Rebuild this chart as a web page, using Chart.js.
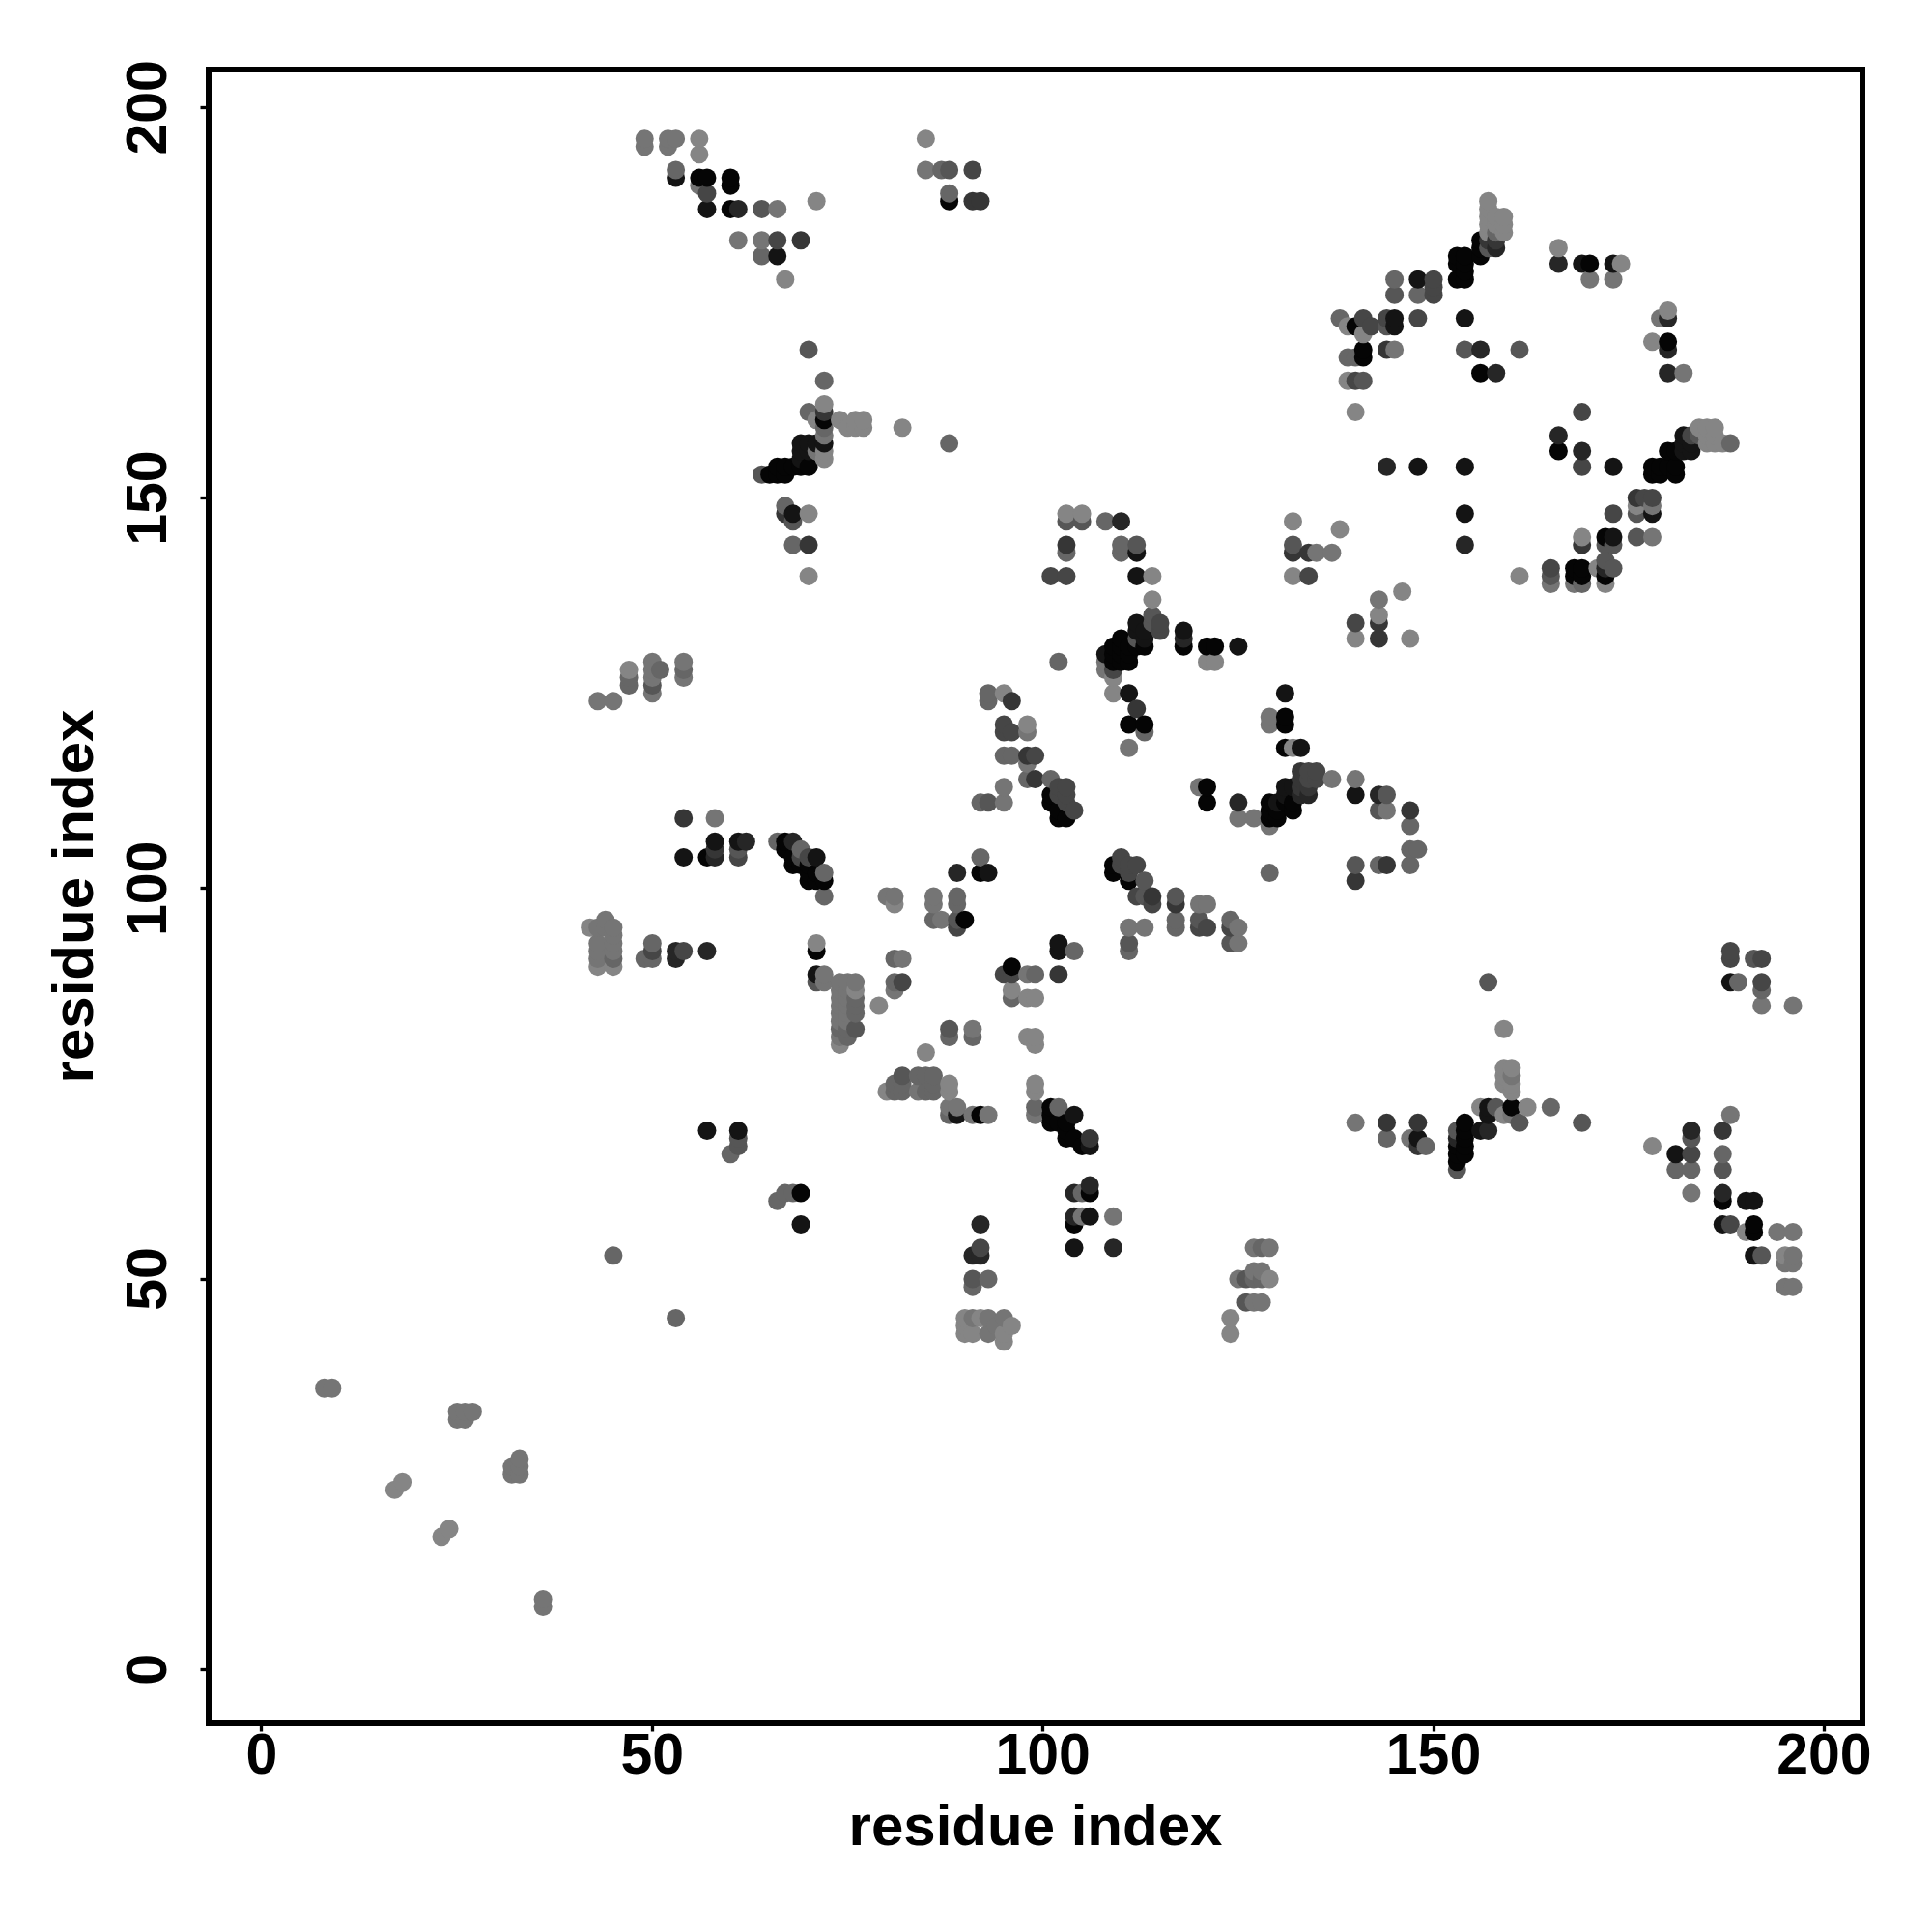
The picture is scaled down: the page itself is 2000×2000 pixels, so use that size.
<!DOCTYPE html>
<html><head><meta charset="utf-8">
<style>html,body{margin:0;padding:0;background:#fff}canvas{display:block}</style>
<script src="https://cdn.jsdelivr.net/npm/chart.js@4"></script>
</head><body><canvas id="c" width="2000" height="2000"></canvas>
<script>
const xTicks=[0,50,100,150,200];
const yTicks=[0,50,100,150,200];
const axisLabel="residue index";
// contact pairs [x,y,x,y,...], grouped by gray level
const shade05=[56,191,57,191,60,191,60,190,60,187,88,188,72,160,66,154,67,154,68,154,69,154,70,154,65,153,66,153,67,153,
153,181,154,181,153,180,154,180,154,179,153,178,154,178,156,183,156,182,156,181,170,180,140,172,141,169,141,168,156,166,180,170,
178,153,179,153,181,153,178,154,179,154,180,154,181,154,180,156,181,156,166,156,172,145,172,140,168,141,169,141,169,140,168,140,
110,132,109,131,110,131,111,131,112,131,113,131,109,130,110,130,111,130,109,129,110,129,111,129,118,131,121,131,122,131,111,121,113,121,131,122,131,121,131,118,
121,113,121,111,129,111,131,111,132,111,132,110,129,110,130,110,129,109,130,109,101,112,101,111,102,110,102,109,103,109,109,103,109,102,111,101,92,102,90,96,96,90,
67,106,67,105,68,104,68,103,69,103,70,103,70,102,71,102,70,101,71,101,72,101,57,104,71,92,
101,72,101,71,101,70,102,70,103,70,103,69,103,68,104,68,105,67,92,71,69,61,106,61,104,57,154,70,154,69,154,68,154,67,153,67,153,66,154,66,153,65,160,72,191,57,191,56,187,60];
const shade15=[53,191,57,187,66,181,68,148,69,157,70,157,69,156,70,156,69,155,71,157,72,157,154,173,173,180,169,180,148,178,145,173,145,172,154,154,148,154,173,154,182,158,182,157,183,157,183,156,182,156,154,148,178,148,173,145,
112,143,112,140,118,133,125,131,112,134,108,130,113,132,112,133,113,133,131,125,133,118,140,112,102,93,102,92,93,102,58,106,61,106,54,104,71,89,89,71,104,54,69,57,61,69,57,69,106,58,148,68,157,72,157,71,156,69,181,66,190,60,191,60,187,57,191,53,188,88,106,67,131,113,130,111,131,112,132,113,111,125,71,104,104,71];
const shade25=[61,187,166,180,169,156,166,158,156,169,180,173,180,169,180,166,158,166,144,154,154,144,172,141,110,147,106,62,104,61,104,58,92,57,91,53,92,53,109,54,125,111,133,112,134,112,143,112,118,132,68,106,58,104,53,91,53,92,57,92,62,106,157,69,153,68,187,61,89,102,183,69,158,182];
const shade35=[91,188,92,188,69,183,67,148,70,144,103,144,133,115,133,113,134,113,133,114,144,103,99,114,98,117,102,89,147,110,148,67,106,68,187,69,148,70,144,70,176,150,143,132,143,134,113,133,117,98,114,99,54,109,112,123,140,101,132,143,134,143,58,105,96,124,72,161,157,183,158,183,144,169,169,144];
const shade45=[57,189,66,183,91,192,141,173,148,173,144,173,142,172,165,141,140,134,140,165,169,154,169,161,173,148,150,176,150,177,150,178,103,140,101,140,95,120,96,120,95,121,99,117,102,113,103,113,102,112,103,112,103,111,104,110,110,104,110,103,111,103,112,103,111,102,70,104,69,104,134,114,135,114,135,115,134,115,115,134,115,133,112,99,114,98,120,95,121,95,124,95,188,92,188,91,192,91,188,57,192,88,183,66,54,92,50,92,61,104,89,95,82,88,96,89,95,89,92,54,177,150,178,150,109,128,183,158,134,140];
const shade55=[88,192,64,187,70,169,68,147,165,140,144,172,150,177,161,169,154,169,141,165,176,145,172,144,173,141,172,142,184,158,173,144,114,134,112,144,103,147,105,147,132,144,113,101,113,99,117,99,93,111,120,96,124,93,140,103,144,103,50,126,82,76,76,82,61,105,61,68,61,67,88,82,126,50,91,50,126,47,153,64,187,64,161,70,169,70,157,88,192,88,191,91,158,72,192,53,183,68,153,69,176,148,114,135,145,176,157,182,112,132,144,112,143,110,71,88,64,153,89,96,111,93];
const shade65=[53,192,87,192,88,189,64,181,70,161,88,157,67,149,68,144,72,165,45,53,53,45,108,147,110,144,103,143,110,143,102,129,93,125,93,124,96,124,95,117,96,117,98,114,101,114,92,104,92,111,111,92,89,99,89,98,86,96,117,96,117,95,124,96,72,99,72,102,69,105,66,106,58,105,50,93,45,91,49,91,50,91,51,128,54,128,47,127,47,126,76,85,76,86,76,84,74,82,75,82,75,81,88,81,91,81,96,86,81,91,81,88,84,76,85,76,86,76,81,75,82,75,86,75,81,74,82,74,85,74,86,74,99,72,102,72,88,71,60,66,66,60,68,61,67,61,91,49,93,50,143,103,144,68,147,103,147,105,147,108,148,105,149,67,165,72,181,64,183,64,187,66,189,88,192,87,145,178,148,176,138,173,144,172,188,157,140,168,139,168,127,50,128,54,128,50,113,120,99,89,104,92,105,61,72,159,158,184,169,139,129,102];
const shade75=[53,196,61,183,64,183,66,187,72,158,71,156,85,192,49,196,49,195,52,196,52,195,50,129,54,129,50,127,54,127,50,125,45,124,43,124,45,93,43,93,43,92,45,92,43,91,43,95,45,95,44,96,45,94,44,95,81,91,81,87,82,91,74,88,75,88,76,88,74,87,75,87,74,86,75,86,74,85,75,85,74,84,75,84,74,83,75,83,74,81,80,99,81,99,86,99,86,98,89,98,87,96,8,36,9,36,25,33,26,33,27,33,25,32,26,32,33,27,32,26,33,26,32,25,33,25,36,9,36,8,95,111,95,113,98,116,98,120,111,95,113,95,111,118,121,98,120,98,125,95,125,93,111,92,129,122,129,121,120,113,127,109,125,109,129,108,137,114,140,114,137,143,135,143,143,137,165,139,168,139,173,178,170,178,179,173,182,166,170,178,88,72,89,72,84,74,93,71,91,71,99,71,94,44,91,45,93,45,93,43,95,45,127,54,129,54,127,51,128,51,125,50,127,47,128,47,140,70,192,85,196,85,183,61,188,71,56,190,194,56,196,56,195,52,195,49,196,49,196,53,196,52,160,76,50,128,108,129,108,128,72,88,72,89,98,89,105,58,109,58,58,109,144,110,145,169,178,149,178,145,160,71,147,68,91,82];
const shade85=[85,196,56,196,56,194,71,188,67,178,72,162,71,160,74,160,75,159,76,160,77,160,76,159,77,159,82,159,72,156,72,155,70,148,70,140,18,24,17,23,24,18,23,17,157,188,157,187,157,186,157,185,157,184,159,186,159,185,159,184,158,186,158,185,166,182,174,180,139,172,139,165,141,171,140,161,178,170,180,174,184,159,185,159,186,159,185,158,186,158,185,157,186,157,187,157,138,146,146,138,161,140,169,145,171,141,172,139,143,135,140,132,147,132,114,140,114,137,103,148,105,148,132,147,132,140,96,87,98,121,95,125,99,86,98,86,98,81,99,81,99,80,85,79,79,85,74,80,99,75,99,74,159,82,159,77,160,77,159,76,160,76,159,75,160,75,160,74,156,72,162,72,159,71,148,70,178,67,92,111,90,44,90,45,92,45,96,44,95,43,90,43,91,43,95,42,124,45,124,43,129,50,85,79,81,98,71,93,76,87,42,95,43,90,45,90,195,53,190,56,88,74,88,75,80,74,109,125,109,127,121,129,122,129,132,118,176,149,47,128];
const shades=[[shade05,'#050505'],[shade15,'#141414'],[shade25,'#262626'],[shade35,'#363636'],[shade45,'#464646'],[shade55,'#565656'],[shade65,'#666666'],[shade75,'#757575'],[shade85,'#858585']];

const seen=new Map();
shades.forEach(([arr,col])=>{for(let i=0;i<arr.length;i+=2){const k=arr[i]+','+arr[i+1];if(!seen.has(k))seen.set(k,{x:arr[i],y:arr[i+1],c:col});}});
const table=[...seen.values()].sort((a,b)=>a.x-b.x||a.y-b.y);
const FONT='"Liberation Sans", Arial, sans-serif';
const frame={id:'frame',afterDatasetsDraw(ch){const a=ch.chartArea,c=ch.ctx;c.save();c.strokeStyle='#000';c.lineWidth=6;c.strokeRect(a.left,a.top,a.width,a.height);c.restore();}};
new Chart(document.getElementById('c'),{
 type:'scatter',
 data:{datasets:[{data:table.map(p=>({x:p.x,y:p.y})),backgroundColor:table.map(p=>p.c),borderWidth:0,pointRadius:9.5,pointHoverRadius:9.5}]},
 plugins:[frame],
 options:{responsive:false,animation:false,
  layout:{padding:{top:72,right:72,left:0,bottom:0}},
  plugins:{legend:{display:false},tooltip:{enabled:false}},
  scales:{
   x:{type:'linear',min:-6.80,max:204.9,
    afterBuildTicks(s){s.ticks=xTicks.map(v=>({value:v}));},
    afterFit(s){s.height=216;},
    grid:{drawOnChartArea:false,drawTicks:true,tickLength:8.5,tickWidth:3.3,tickColor:'#000'},
    border:{display:false},
    ticks:{color:'#000',font:{family:FONT,weight:'bold',size:59},padding:-8,maxRotation:0,minRotation:0,autoSkip:false},
    title:{display:true,text:axisLabel,color:'#000',font:{family:FONT,weight:'bold',size:60},padding:{top:0,bottom:71}}},
   y:{type:'linear',min:-6.89,max:204.86,
    afterBuildTicks(s){s.ticks=yTicks.map(v=>({value:v}));},
    afterFit(s){s.width=216;},
    grid:{drawOnChartArea:false,drawTicks:true,tickLength:8.5,tickWidth:3.3,tickColor:'#000'},
    border:{display:false},
    ticks:{color:'#000',font:{family:FONT,weight:'bold',size:59},padding:3,maxRotation:90,minRotation:90,autoSkip:false,align:'center',crossAlign:'center'},
    title:{display:true,text:axisLabel,color:'#000',font:{family:FONT,weight:'bold',size:60},padding:{top:43,bottom:0}}}
  }}
});
</script></body></html>
